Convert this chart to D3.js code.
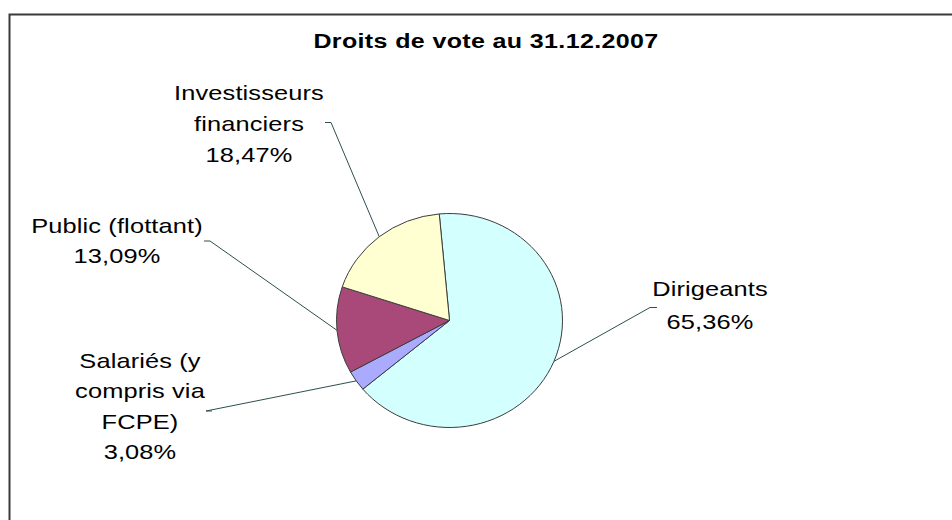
<!DOCTYPE html>
<html>
<head>
<meta charset="utf-8">
<script src="https://cdn.jsdelivr.net/npm/d3@7"></script>
<style>
  html, body { margin: 0; padding: 0; background: #fff; }
  svg text { font-family: "Liberation Sans", Arial, sans-serif; fill: #000; }
</style>
</head>
<body>
<svg id="chart" width="952" height="520"></svg>
<script>
// ---- data ----
const title = "Droits de vote au 31.12.2007";
const categories = ["Dirigeants", "Salariés (y compris via FCPE)", "Public (flottant)", "Investisseurs financiers"];
const values = [65.36, 3.08, 13.09, 18.47];
const valueLabels = ["65,36%", "3,08%", "13,09%", "18,47%"];
const labelLines = [
  ["Dirigeants", "65,36%"],
  ["Salariés (y", "compris via", "FCPE)", "3,08%"],
  ["Public (flottant)", "13,09%"],
  ["Investisseurs", "financiers", "18,47%"]
];
const colors = ["#D3FFFF", "#AAAAFF", "#A8497A", "#FFFFD1"];

// ---- layout (not data) ----
const W = 952, H = 520;
const cx = 449.5, cy = 320.5, r = 107, sx = 1.056;
const startDeg = -5.2;
const textStretch = 1.21;
// label anchor: center x, first baseline, line pitch, leader tick end (label side)
const labelLayout = [
  {x: 709, y: 296, dy: 33, tick: [[657, 307.5], [650, 307.5]]},
  {x: 139, y: 368, dy: 30.5, tick: [[212, 411], [206, 411]]},
  {x: 116, y: 233, dy: 30, tick: [[204, 241], [210, 241]]},
  {x: 248, y: 100, dy: 31, tick: [[325, 122.5], [331, 122.5]]}
];

const svg = d3.select("#chart");

// frame (open at right & bottom as in the reference)
svg.append("path")
  .attr("d", `M9.5,${H} L9.5,14.5 L${W},14.5`)
  .attr("fill", "none").attr("stroke", "#3a3a3a").attr("stroke-width", 2);

svg.append("g").attr("transform", `translate(486,48) scale(1.25,1)`)
  .append("text")
  .attr("x", 0).attr("y", 0)
  .attr("text-anchor", "middle")
  .attr("font-size", 20).attr("font-weight", "bold")
  .attr("letter-spacing", 0.3)
  .text(title);

const toRad = d => d * Math.PI / 180;
const pie = d3.pie().sort(null).value(d => d)
  .startAngle(toRad(startDeg)).endAngle(toRad(startDeg + 360));
const arcs = pie(values);
const arc = d3.arc().innerRadius(0).outerRadius(r);

const g = svg.append("g").attr("transform", `translate(${cx},${cy}) scale(${sx},1)`);
g.selectAll("path.slice").data(arcs).join("path")
  .attr("class", "slice")
  .attr("d", arc)
  .attr("fill", (d, i) => colors[i])
  .attr("stroke", "#3c3c3c")
  .attr("stroke-width", 1)
  .attr("vector-effect", "non-scaling-stroke");

// leader lines
arcs.forEach((a, i) => {
  const mid = (a.startAngle + a.endAngle) / 2;
  const px = cx + Math.sin(mid) * r * sx;
  const py = cy - Math.cos(mid) * r;
  const t = labelLayout[i].tick;
  svg.append("path")
    .attr("d", d3.line()([t[0], t[1], [px, py]]))
    .attr("fill", "none").attr("stroke", "#2e4f50").attr("stroke-width", 1);
});

// labels
labelLines.forEach((lines, i) => {
  const L = labelLayout[i];
  const t = svg.append("g")
    .attr("transform", `translate(${L.x + 1},0) scale(${textStretch},1)`)
    .append("text")
    .attr("text-anchor", "middle")
    .attr("font-size", 21)
    .attr("letter-spacing", 0.1);
  lines.forEach((s, j) => {
    t.append("tspan").attr("x", 0).attr("y", L.y + j * L.dy).text(s);
  });
});
</script>
</body>
</html>
